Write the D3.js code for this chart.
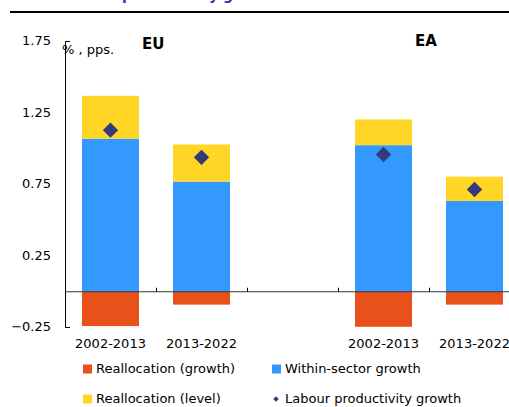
<!DOCTYPE html>
<html>
<head>
<meta charset="utf-8">
<script src="https://cdn.jsdelivr.net/npm/d3@7"></script>
<style>
  html, body { margin: 0; padding: 0; background: #ffffff; }
  svg { display: block; font-family: "DejaVu Sans", sans-serif; }
</style>
</head>
<body>
<svg id="chart" width="509" height="407"></svg>
<script>
// ---- data ----
const slots = ["EU 2002-2013", "EU 2013-2022", "gap", "EA 2002-2013", "EA 2013-2022"];
const slotLabels = ["2002-2013", "2013-2022", "", "2002-2013", "2013-2022"];
const barSlots = ["EU 2002-2013", "EU 2013-2022", "EA 2002-2013", "EA 2013-2022"];
const withinSector = [1.07, 0.77, 1.025, 0.635];
const reallocLevel = [0.30, 0.26, 0.18, 0.17];
const reallocGrowth = [-0.24, -0.09, -0.245, -0.09];
const labourProd = [1.13, 0.94, 0.96, 0.715];
const yTicks = [-0.25, 0.25, 0.75, 1.25, 1.75];
const groupLabels = ["EU", "EA"];
const seriesNames = ["Reallocation (growth)", "Within-sector growth", "Reallocation (level)", "Labour productivity growth"];

const colors = {
  growth: "#E8511A",
  within: "#3399FF",
  level: "#FFD626",
  lp: "#363A78"
};

const svg = d3.select("#chart");

// title remnant (cut off at the top, as in the reference) and rule
svg.append("text")
  .attr("x", 122).attr("y", -0.5)
  .attr("font-size", 14).attr("font-weight", "bold")
  .attr("fill", "#3333AA")
  .text("productivity growth");
svg.append("line")
  .attr("x1", 10).attr("x2", 509).attr("y1", 12).attr("y2", 12)
  .attr("stroke", "#000").attr("stroke-width", 2);

const x = d3.scaleBand().domain(slots).range([65, 520]).padding(0);
const y = d3.scaleLinear().domain([-0.25, 1.75]).range([327.5, 41.5]);
const barW = 57;
const bx = s => x(s) + (x.bandwidth() - barW) / 2;

// bars
const g = svg.append("g");
barSlots.forEach((s, i) => {
  g.append("rect").attr("x", bx(s)).attr("width", barW)
    .attr("y", y(withinSector[i])).attr("height", y(0) - y(withinSector[i]))
    .attr("fill", colors.within);
  const top = withinSector[i] + reallocLevel[i];
  g.append("rect").attr("x", bx(s)).attr("width", barW)
    .attr("y", y(top)).attr("height", y(withinSector[i]) - y(top))
    .attr("fill", colors.level);
  g.append("rect").attr("x", bx(s)).attr("width", barW)
    .attr("y", y(0)).attr("height", y(reallocGrowth[i]) - y(0))
    .attr("fill", colors.growth);
});

// y axis line with end feet
svg.append("path")
  .attr("d", `M70,${y(1.75)}H65.5V${y(-0.25)}H70`)
  .attr("fill", "none").attr("stroke", "#000").attr("stroke-width", 1);

// zero line
svg.append("line")
  .attr("x1", 65).attr("x2", 509).attr("y1", y(0)).attr("y2", y(0))
  .attr("stroke", "#333").attr("stroke-width", 1);

// x ticks at band boundaries
slots.slice(1).forEach(s => {
  const tx = Math.round(x(s)) + 0.5;
  svg.append("line").attr("x1", tx).attr("x2", tx)
    .attr("y1", y(0)).attr("y2", y(0) - 4)
    .attr("stroke", "#000").attr("stroke-width", 1);
});

// y tick labels
yTicks.forEach(t => {
  svg.append("text")
    .attr("x", 51).attr("y", y(t))
    .attr("text-anchor", "end").attr("dominant-baseline", "middle")
    .attr("font-size", 13).attr("fill", "#000")
    .text(d3.format(".2f")(t));
});

// x labels
slots.forEach((s, i) => {
  if (!slotLabels[i]) return;
  svg.append("text")
    .attr("x", x(s) + x.bandwidth() / 2).attr("y", 344)
    .attr("text-anchor", "middle").attr("dominant-baseline", "middle")
    .attr("font-size", 13).attr("fill", "#000")
    .text(slotLabels[i]);
});

// diamonds
barSlots.forEach((s, i) => {
  svg.append("path")
    .attr("d", d3.symbol().type(d3.symbolDiamond2).size(150)())
    .attr("transform", `translate(${x(s) + x.bandwidth() / 2},${y(labourProd[i])})`)
    .attr("fill", colors.lp);
});

// unit label and group labels
svg.append("text").attr("x", 62).attr("y", 50)
  .attr("dominant-baseline", "middle").attr("font-size", 13)
  .text("% , pps.");
svg.append("text").attr("x", 142).attr("y", 44)
  .attr("dominant-baseline", "middle").attr("font-size", 15).attr("font-weight", "bold")
  .text(groupLabels[0]);
svg.append("text").attr("x", 415).attr("y", 41)
  .attr("dominant-baseline", "middle").attr("font-size", 15).attr("font-weight", "bold")
  .text(groupLabels[1]);

// legend
const legend = [
  { name: seriesNames[0], color: colors.growth, type: "rect", x: 83, y: 369 },
  { name: seriesNames[1], color: colors.within, type: "rect", x: 272, y: 369 },
  { name: seriesNames[2], color: colors.level, type: "rect", x: 83, y: 399 },
  { name: seriesNames[3], color: colors.lp, type: "diamond", x: 272, y: 399 }
];
legend.forEach(l => {
  if (l.type === "rect") {
    svg.append("rect").attr("x", l.x).attr("y", l.y - 4.5).attr("width", 9).attr("height", 9)
      .attr("fill", l.color);
  } else {
    svg.append("path")
      .attr("d", d3.symbol().type(d3.symbolDiamond2).size(20)())
      .attr("transform", `translate(${l.x + 4},${l.y})`)
      .attr("fill", l.color);
  }
  svg.append("text").attr("x", l.x + 13).attr("y", l.y)
    .attr("dominant-baseline", "middle").attr("font-size", 13)
    .text(l.name);
});
</script>
</body>
</html>
